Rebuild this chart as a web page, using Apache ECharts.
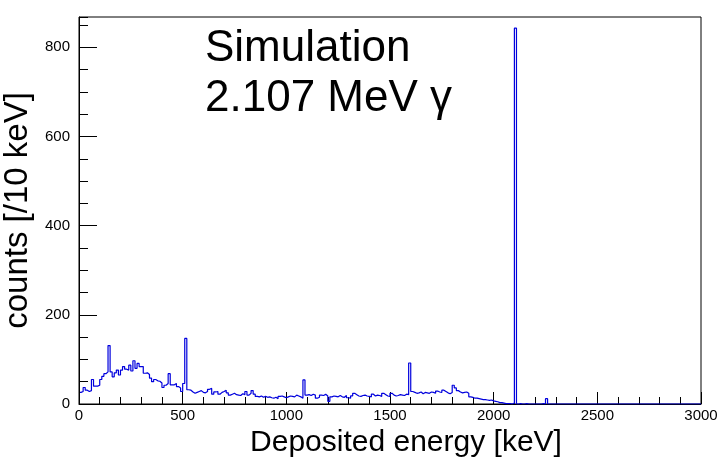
<!DOCTYPE html>
<html>
<head>
<meta charset="utf-8">
<script src="https://cdn.jsdelivr.net/npm/echarts@6/dist/echarts.min.js"></script>
<style>html,body{margin:0;padding:0;background:#fff}#c{width:721px;height:459px}</style>
</head>
<body>
<div id="c"></div>
<script>
// Histogram: counts per 10 keV bin, bins start at 0 keV
const BIN_WIDTH = 10;
const counts = [
  26, 28, 37, 31, 28, 30, 55, 40, 40, 42,      // 0-90
  55, 62, 68, 72, 131, 72, 61, 70, 76, 65,     // 100-190
  76, 84, 78, 76, 87, 74, 97, 80, 91, 84,      // 200-290
  84, 69, 70, 66, 58, 50, 55, 52, 51, 47,      // 300-390
  37, 42, 46, 68, 43, 43, 46, 39, 36, 28,      // 400-490
  46, 147, 32, 31, 27, 24, 26, 28, 30, 26,     // 500-590
  25, 28, 33, 35, 22, 27, 28, 22, 26, 28,      // 600-690
  31, 25, 20, 22, 24, 21, 20, 19, 23, 21,      // 700-790
  28, 20, 24, 30, 22, 17, 16, 18, 15, 17,      // 800-890
  15, 16, 14, 13, 15, 12, 17, 18, 16, 14,      // 900-990
  16, 18, 17, 16, 20, 18, 16, 13, 54, 20,      // 1000-1090
  21, 19, 22, 20, 13, 15, 20, 19, 22, 18,      // 1100-1190
  6, 16, 18, 17, 16, 19, 16, 15, 19, 14,       // 1200-1290
  13, 18, 24, 21, 18, 17, 19, 20, 18, 17,      // 1300-1390
  16, 22, 18, 20, 19, 17, 24, 21, 18, 17,      // 1400-1490
  24, 20, 18, 19, 21, 20, 19, 22, 21, 92,      // 1500-1590
  28, 26, 24, 25, 27, 23, 26, 25, 24, 27,      // 1600-1690
  26, 24, 29, 27, 26, 31, 28, 25, 23, 26,      // 1700-1790
  42, 36, 30, 27, 25, 26, 27, 24, 16, 15,      // 1800-1890
  13, 13, 12, 11, 10, 10, 9, 8, 9, 7,          // 1900-1990
  6, 5, 3, 3, 2, 1, 1, 1, 0, 2,                // 2000-2090
  843, 0, 1, 0, 0, 1, 0, 0, 0, 0,              // 2100-2190
  0, 0, 0, 1, 0, 12, 0, 0, 0, 0,               // 2200-2290
  0, 0, 0, 0, 0, 0, 0, 0, 0, 0,                // 2300-2390
  0, 0, 0, 0, 0, 0, 0, 0, 0, 0,                // 2400-2490
  0, 0, 0, 0, 0, 0, 0, 0, 0, 0,                // 2500-2590
  0, 0, 0, 0, 0, 0, 0, 0, 0, 0,                // 2600-2690
  0, 0, 0, 0, 0, 0, 0, 0, 0, 0,                // 2700-2790
  0, 0, 0, 0, 0, 0, 0, 0, 0, 0,                // 2800-2890
  0, 0, 0, 0, 0, 0, 0, 0, 0, 0                 // 2900-2990
];
const xTitle = 'Deposited energy [keV]';
const yTitle = 'counts [/10 keV]';
const labelLines = ['Simulation', '2.107 MeV γ'];

// build step-line data from bin left edges (plus the closing right edge)
const stepData = counts.map((v, i) => [i * BIN_WIDTH, v]);
stepData.push([counts.length * BIN_WIDTH, counts[counts.length - 1]]);

const FONT = 'Liberation Sans, Arial, Helvetica, sans-serif';
const chart = echarts.init(document.getElementById('c'), null, {renderer: 'canvas'});
const axisLineStyle = {color: '#000', width: 1};
chart.setOption({
  animation: false,
  backgroundColor: '#fff',
  grid: {left: 79, right: 20, top: 17, bottom: 55, containLabel: false, outerBoundsMode: 'none',
         show: true, borderColor: '#000', borderWidth: 1, backgroundColor: 'transparent'},
  xAxis: [{
    type: 'value', min: 0, max: 3000, interval: 500,
    axisLine: {show: true, onZero: false, lineStyle: axisLineStyle},
    axisTick: {show: true, inside: true, length: 12, lineStyle: axisLineStyle},
    minorTick: {show: true, splitNumber: 5, length: 7, lineStyle: axisLineStyle},
    splitLine: {show: false},
    axisLabel: {color: '#000', fontSize: 15, fontFamily: FONT, margin: 4, formatter: v => String(v)},
    name: xTitle, nameLocation: 'middle', nameGap: 13,
    nameTextStyle: {color: '#000', fontSize: 30, fontFamily: FONT, verticalAlign: 'top', padding: [0, 0, 0, 32]}
  }],
  yAxis: [{
    type: 'value', min: 0, max: 868, interval: 200,
    axisLine: {show: true, onZero: false, lineStyle: axisLineStyle},
    axisTick: {show: true, inside: true, length: 18, lineStyle: axisLineStyle},
    splitLine: {show: false},
    axisLabel: {color: '#000', fontSize: 15, fontFamily: FONT, margin: 9, showMaxLabel: false, formatter: v => String(v)},
    name: yTitle, nameLocation: 'middle', nameGap: 31,
    nameTextStyle: {color: '#000', fontSize: 33, fontFamily: FONT},
    z: 5
  }, {
    type: 'value', min: 0, max: 868, interval: 50, position: 'left',
    axisLine: {show: false},
    axisTick: {show: true, inside: true, length: 9, lineStyle: axisLineStyle},
    splitLine: {show: false},
    axisLabel: {show: false}
  }],
  series: [{
    type: 'line', step: 'end', data: stepData, xAxisIndex: 0, yAxisIndex: 0,
    showSymbol: false, symbol: 'none',
    lineStyle: {color: '#0000dd', width: 1.2},
    z: 3
  }],
  graphic: [{
    type: 'text', left: 205, top: 24,
    style: {text: labelLines.join('\n'), fill: '#000', font: '44px ' + FONT, lineHeight: 50}
  }]
});
</script>
</body>
</html>
